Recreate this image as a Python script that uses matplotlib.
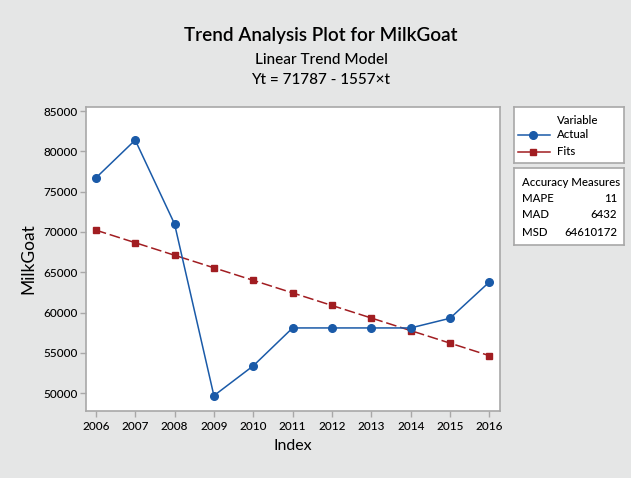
import numpy as np
import matplotlib
matplotlib.use("Agg")
import matplotlib.pyplot as plt

plt.rcParams['font.family'] = ['Lato', 'DejaVu Sans']
plt.rcParams['font.weight'] = 'medium'

# data
years = [2006, 2007, 2008, 2009, 2010, 2011, 2012, 2013, 2014, 2015, 2016]
actual = [76700, 81400, 71000, 49700, 53400, 58100, 58100, 58100, 58100, 59300, 63800]
fits = [70230, 68673, 67116, 65559, 64002, 62445, 60888, 59331, 57774, 56217, 54660]
yticks = [50000, 55000, 60000, 65000, 70000, 75000, 80000, 85000]
acc_names = ['MAPE', 'MAD', 'MSD']
acc_vals = ['11', '6432', '64610172']

bg = '#e5e6e6'
blue = '#1a5aa8'
red = '#a11d21'
edge = '#a8a8a8'
txt = '#000000'

W, H = 631, 478
fig = plt.figure(figsize=(W/100, H/100), dpi=100, facecolor=bg)

def px_axes(x0, y0, x1, y1):
	return fig.add_axes([x0/W, 1-y1/H, (x1-x0)/W, (y1-y0)/H])

def box(ax):
	ax.set_xticks([])
	ax.set_yticks([])
	for s in ax.spines.values():
		s.set_color(edge)
		s.set_linewidth(1.2)

ax = px_axes(86, 107, 500, 411)
ax.set_facecolor('white')
ax.plot(years, actual, '-o', color=blue, lw=1.1, ms=5.5, zorder=3)
ax.plot(years, fits, color=red, lw=1.1, dashes=(7, 2.5), marker='s', ms=5, zorder=2)
ax.set_xlim(2005.75, 2016.27)
ax.set_ylim(47800, 85500)
ax.set_xticks(years)
ax.set_yticks(yticks)
ax.tick_params(labelsize=8.5, length=4, color=edge, width=1, pad=2, labelcolor=txt)
ax.tick_params(axis='x', pad=3)
for s in ax.spines.values():
	s.set_color(edge)
	s.set_linewidth(1.2)
ax.set_xlabel('Index', fontsize=11.5, labelpad=5, color=txt)
ax.set_ylabel('MilkGoat', fontsize=12.5, labelpad=5, color=txt)

fig.text(321/W, 1-35/H, 'Trend Analysis Plot for MilkGoat', fontsize=13.6, ha='center', va='center', color=txt, weight='semibold')
fig.text(321/W, 1-60/H, 'Linear Trend Model', fontsize=11, ha='center', va='center', color=txt)
fig.text(321/W, 1-80/H, 'Yt = 71787 - 1557\u00d7t', fontsize=11, ha='center', va='center', color=txt)

# legend box
lb = px_axes(514, 107, 624, 163)
lb.set_xlim(514, 624)
lb.set_ylim(163, 107)
box(lb)
lb.text(578, 120, 'Variable', fontsize=8.2, ha='center', va='center', color=txt)
lb.plot([518, 550], [135, 135], color=blue, lw=1.1)
lb.plot([533], [135], 'o', color=blue, ms=5.5)
lb.plot([518, 550], [152, 152], color=red, lw=1.1)
lb.plot([533], [152], 's', color=red, ms=5)
lb.text(557, 135, 'Actual', fontsize=8.2, ha='left', va='center', color=txt)
lb.text(557, 152, 'Fits', fontsize=8.2, ha='left', va='center', color=txt)

# accuracy box
ab = px_axes(514, 168, 624, 245)
ab.set_xlim(514, 624)
ab.set_ylim(245, 168)
box(ab)
ab.text(522, 182, 'Accuracy Measures', fontsize=8.2, ha='left', va='center', color=txt)
for i, (n, v) in enumerate(zip(acc_names, acc_vals)):
	yy = 198 + i*17
	ab.text(522, yy, n, fontsize=8.2, ha='left', va='center', color=txt)
	ab.text(617, yy, v, fontsize=8.2, ha='right', va='center', color=txt)

fig.savefig('out.png', dpi=100, facecolor=bg)
